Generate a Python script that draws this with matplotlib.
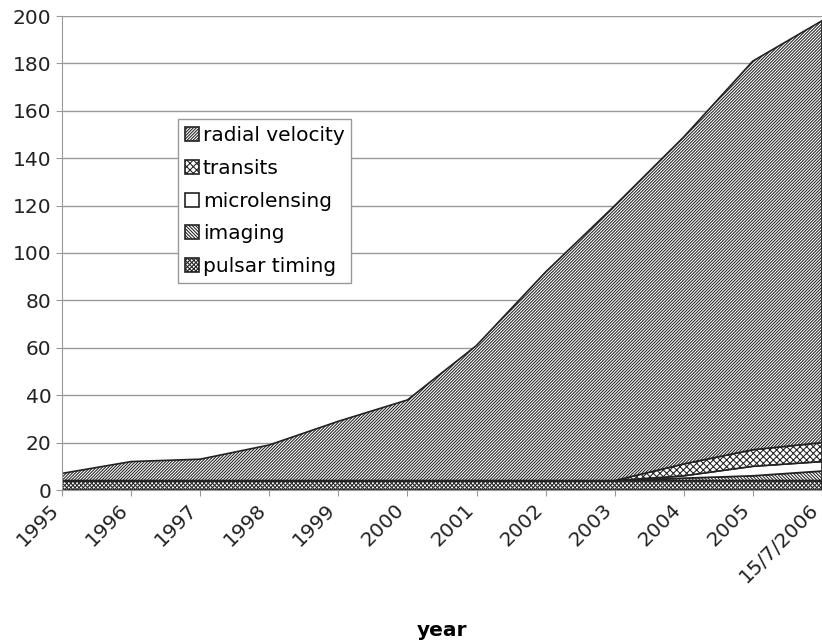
import numpy as np
import matplotlib.pyplot as plt
import matplotlib.transforms as mtransforms

years = ["1995", "1996", "1997", "1998", "1999", "2000", "2001",
         "2002", "2003", "2004", "2005", "15/7/2006"]

# cumulative number of planets per detection method
pulsar_timing = [4, 4, 4, 4, 4, 4, 4, 4, 4, 4, 4, 4]
imaging = [0, 0, 0, 0, 0, 0, 0, 0, 0, 1, 2, 4]
microlensing = [0, 0, 0, 0, 0, 0, 0, 0, 0, 1, 4, 4]
transits = [0, 0, 0, 0, 0, 0, 0, 0, 0, 5, 7, 8]
radial_velocity = [3, 8, 9, 15, 25, 34, 57, 88, 116, 138, 164, 178]

series = [
    ("pulsar timing", pulsar_timing, "x" * 8),
    ("imaging", imaging, "\\" * 10),
    ("microlensing", microlensing, ""),
    ("transits", transits, "x" * 5),
    ("radial velocity", radial_velocity, "/" * 11),
]

plt.rcParams["font.family"] = ["Verdana", "DejaVu Sans"]
plt.rcParams["hatch.linewidth"] = 0.75

fig = plt.figure(figsize=(8.22, 6.43), dpi=100)
ax = fig.add_axes([62 / 822, 1 - 490 / 643, 760 / 822, 474 / 643])

x = np.arange(len(years))
base = np.zeros(len(years))
handles = {}
for name, vals, hatch in series:
    top = base + np.array(vals)
    h = ax.fill_between(x, base, top, facecolor="white", edgecolor="#222222",
                        hatch=hatch, linewidth=1.2, zorder=2)
    handles[name] = h
    base = top

ax.set_xlim(0, len(years) - 1)
ax.set_ylim(0, 200)
ax.set_yticks(range(0, 201, 20))
ax.yaxis.grid(True, color="#999999", linewidth=1.0, zorder=0)
ax.set_axisbelow(True)
ax.set_xticks(x)
ax.set_xticklabels(years, rotation=45, ha="right", va="center",
                   rotation_mode="anchor")
ax.tick_params(axis="both", labelsize=14.5, colors="#999999", labelcolor="#222222",
               length=4)
ax.tick_params(axis="x", pad=4)
shift = mtransforms.ScaledTranslation(-6 / 100, -6 / 100, fig.dpi_scale_trans)
for lbl in ax.get_xticklabels():
    lbl.set_transform(lbl.get_transform() + shift)

for side in ["top", "right"]:
    ax.spines[side].set_visible(False)
for side in ["left", "bottom"]:
    ax.spines[side].set_color("#999999")

order = ["radial velocity", "transits", "microlensing", "imaging", "pulsar timing"]
leg = ax.legend([handles[n] for n in order], order, loc="upper left",
                bbox_to_anchor=(0.152, 0.782), fontsize=14.5, fancybox=False,
                framealpha=1, edgecolor="#999999", handlelength=0.7,
                handleheight=0.7, handletextpad=0.2, labelspacing=0.68,
                borderpad=0.35, borderaxespad=0)
leg.get_frame().set_linewidth(1.0)

fig.text(442 / 822, 1 - 631 / 643, "year", ha="center", va="center",
         fontsize=14.5, fontweight="bold")

plt.savefig("out.png", dpi=100)
